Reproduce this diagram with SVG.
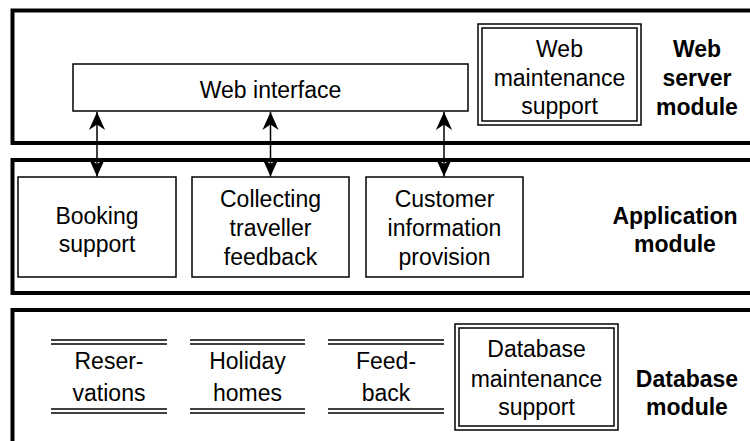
<svg xmlns="http://www.w3.org/2000/svg" width="750" height="441" viewBox="0 0 750 441">
<defs>
<style>
.mod{fill:none;stroke:#000;stroke-width:4}
.box{fill:#fff;stroke:#000;stroke-width:1.5}
.dbl{fill:none;stroke:#000;stroke-width:1.5}
.t{font-family:"Liberation Sans",Arial,sans-serif;font-size:23px;fill:#000;text-anchor:middle}
.b{font-family:"Liberation Sans",Arial,sans-serif;font-size:23px;font-weight:bold;fill:#000;text-anchor:middle}
.conn{stroke:#000;stroke-width:1.5;fill:none}
</style>
<marker id="ah" markerUnits="userSpaceOnUse" markerWidth="20" markerHeight="20" viewBox="-20 -10 21 20" refX="0" refY="0" orient="auto-start-reverse">
<path d="M0,0 L-19,-8.5 L-13,0 L-19,8.5 Z" fill="#000"/>
</marker>
</defs>
<rect width="750" height="441" fill="#fff"/>

<g id="web-server-module">
<rect class="mod" x="12.5" y="10.5" width="760" height="132.5"/>
<text class="b" x="697" y="57">Web</text>
<text class="b" x="697" y="86">server</text>
<text class="b" x="697" y="115">module</text>
</g>
<g id="application-module">
<rect class="mod" x="12.5" y="160" width="760" height="133"/>
<text class="b" x="675" y="224">Application</text>
<text class="b" x="675" y="252">module</text>
</g>
<g id="database-module">
<rect class="mod" x="12.5" y="310" width="760" height="160"/>
<text class="b" x="687" y="387">Database</text>
<text class="b" x="687" y="415">module</text>
</g>

<g id="web-interface">
<rect class="box" x="73" y="64" width="395" height="47"/>
<text class="t" x="270.5" y="98">Web interface</text>
</g>
<g id="web-maintenance-support">
<rect class="box" x="478" y="24" width="163" height="101"/>
<rect class="dbl" x="482" y="28" width="155" height="93"/>
<text class="t" x="559.5" y="57">Web</text>
<text class="t" x="559.5" y="86">maintenance</text>
<text class="t" x="559.5" y="114">support</text>
</g>

<g id="booking-support">
<rect class="box" x="18" y="177" width="158" height="100"/>
<text class="t" x="97" y="224">Booking</text>
<text class="t" x="97" y="252">support</text>
</g>
<g id="collecting-traveller-feedback">
<rect class="box" x="192" y="177" width="157" height="100"/>
<text class="t" x="270.5" y="207">Collecting</text>
<text class="t" x="270.5" y="236">traveller</text>
<text class="t" x="270.5" y="265">feedback</text>
</g>
<g id="customer-information-provision">
<rect class="box" x="366" y="177" width="157" height="100"/>
<text class="t" x="444.5" y="207">Customer</text>
<text class="t" x="444.5" y="236">information</text>
<text class="t" x="444.5" y="265">provision</text>
</g>

<g id="reservations">
<path class="dbl" d="M51,340H167M51,344H167M51,409H167M51,413H167"/>
<text class="t" x="109" y="369">Reser-</text>
<text class="t" x="109" y="401">vations</text>
</g>
<g id="holiday-homes">
<path class="dbl" d="M190,340H305M190,344H305M190,409H305M190,413H305"/>
<text class="t" x="247.5" y="369">Holiday</text>
<text class="t" x="247.5" y="401">homes</text>
</g>
<g id="feedback">
<path class="dbl" d="M328,340H444M328,344H444M328,409H444M328,413H444"/>
<text class="t" x="386" y="369">Feed-</text>
<text class="t" x="386" y="401">back</text>
</g>
<g id="database-maintenance-support">
<rect class="box" x="455" y="324" width="163" height="106"/>
<rect class="dbl" x="459" y="328" width="155" height="98"/>
<text class="t" x="536.5" y="357">Database</text>
<text class="t" x="536.5" y="387">maintenance</text>
<text class="t" x="536.5" y="415">support</text>
</g>

<g id="connectors">
<line class="conn" x1="97" y1="112" x2="97" y2="176.5" marker-start="url(#ah)" marker-end="url(#ah)"/>
<line class="conn" x1="270.5" y1="112" x2="270.5" y2="176.5" marker-start="url(#ah)" marker-end="url(#ah)"/>
<line class="conn" x1="444" y1="112" x2="444" y2="176.5" marker-start="url(#ah)" marker-end="url(#ah)"/>
</g>
</svg>
